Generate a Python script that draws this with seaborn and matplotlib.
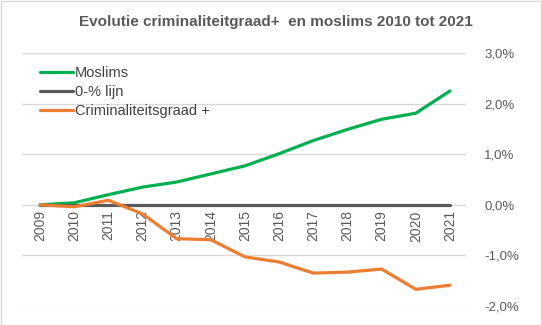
import matplotlib
matplotlib.use("Agg")
import matplotlib.pyplot as plt
from matplotlib.patches import Rectangle
from matplotlib.ticker import FuncFormatter
from matplotlib.lines import Line2D
import seaborn as sns
import pandas as pd

years = [2009, 2010, 2011, 2012, 2013, 2014, 2015, 2016, 2017, 2018, 2019, 2020, 2021]
moslims = [0.0, 0.04, 0.20, 0.35, 0.45, 0.61, 0.77, 1.01, 1.27, 1.49, 1.69, 1.81, 2.25]
nul_lijn = [0.0] * 13
criminaliteit = [0.0, -0.04, 0.09, -0.18, -0.67, -0.69, -1.03, -1.13, -1.35, -1.33, -1.27, -1.67, -1.59]
series_names = ["Moslims", "0-% lijn", "Criminaliteitsgraad +"]
colors = ["#00B050", "#595959", "#ED7D31"]
title = "Evolutie criminaliteitgraad+  en moslims 2010 tot 2021"

sns.set_style("white")
plt.rcParams["font.family"] = ["Liberation Sans", "DejaVu Sans"]

df = pd.DataFrame({
    "jaar": years * 3,
    "waarde": moslims + nul_lijn + criminaliteit,
    "reeks": [series_names[0]] * 13 + [series_names[1]] * 13 + [series_names[2]] * 13,
})

W, H = 542, 325
fig = plt.figure(figsize=(W / 100, H / 100), dpi=100)
ax = fig.add_axes([22 / W, 1 - 306 / H, (466 - 22) / W, (306 - 53) / H])

sns.lineplot(data=df, x="jaar", y="waarde", hue="reeks", palette=dict(zip(series_names, colors)),
             hue_order=series_names, linewidth=2.3, ax=ax, legend=False, zorder=3)

ax.set_xlim(2008.47, 2021.47)
ax.set_ylim(-2, 3)
ax.set_yticks([-2, -1, 0, 1, 2, 3])
ax.yaxis.tick_right()
ax.yaxis.set_major_formatter(FuncFormatter(lambda v, p: f"{v:.1f}%".replace(".", ",")))
ax.tick_params(axis="y", length=0, pad=13, labelsize=9.5, labelcolor="#595959")
ax.grid(axis="y", color="#D9D9D9", linewidth=1)
ax.grid(axis="x", visible=False)
for s in ax.spines.values():
    s.set_visible(False)
ax.spines["bottom"].set_position(("data", 0))
ax.set_xticks(years)
ax.set_xticklabels([str(y) for y in years], rotation=90)
ax.tick_params(axis="x", length=0, pad=4, labelsize=10, labelcolor="#595959")
ax.set_xlabel("")
ax.set_ylabel("")
ax.patch.set_alpha(0)

handles = [Line2D([0], [0], color=c, linewidth=2.3) for c in colors]
leg = ax.legend(handles, series_names, loc="upper left", bbox_to_anchor=(0.017, 0.99),
                frameon=False, fontsize=10.5, handlelength=2.3, handletextpad=0.1,
                labelspacing=0.35, borderaxespad=0.3)
for t in leg.get_texts():
    t.set_color("#404040")

fig.text(276 / W, 1 - 22 / H, title, ha="center", va="center", fontsize=11,
         fontweight="bold", color="#595959")

fig.patches.append(Rectangle((0.5 / W, 0.5 / H), 1 - 1.5 / W, 1 - 1.5 / H, transform=fig.transFigure,
                             fill=False, edgecolor="#D9D9D9", linewidth=1))

fig.savefig("out.png", dpi=100)
